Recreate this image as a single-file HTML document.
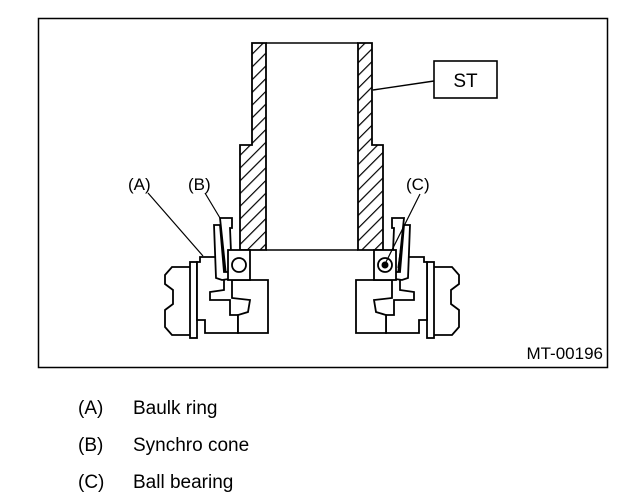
<!DOCTYPE html>
<html><head><style>
body{margin:0;background:#fff;width:640px;height:504px;overflow:hidden;font-family:"Liberation Sans",sans-serif}
.cap{position:absolute;font-size:19px;color:#000}
</style></head><body>
<svg width="640" height="504" style="position:absolute;left:0;top:0">
<defs>
<pattern id="h" width="9" height="9" patternUnits="userSpaceOnUse" patternTransform="rotate(45)">
<rect width="9" height="9" fill="#fff"/><line x1="0" y1="0" x2="0" y2="9" stroke="#000" stroke-width="2.4"/>
</pattern>
<g id="asm" fill="#fff" stroke="#000" stroke-width="1.8">
<polygon points="165,275 172,267 192,267 192,335 172,335 165,327 165,310 173,304 173,290 165,284"/>
<rect x="190" y="262" width="7" height="76"/>
<polygon points="197,262 200,262 200,257 218,257 224,262 224,290 210,292 210,300 230,300 230,315 238,315 238,333 205,333 205,320 197,320"/>
<polygon points="232,280 268,280 268,333 238,333 238,315 248,312 250,300 232,298"/>
<polygon points="220,218 232,218 232,228 230,228 232,275 226,275"/>
<polygon points="214,225 220,225 224,272 236,272 236,278 222,280 216,278"/>
<rect x="228" y="250" width="22" height="30"/>
<circle cx="239" cy="265" r="7"/>
</g>
</defs>
<rect x="38.5" y="18.5" width="569" height="349" fill="#fff" stroke="#000" stroke-width="1.5"/>
<polygon points="252,43 266,43 266,250 240,250 240,145 252,145" fill="url(#h)" stroke="#000" stroke-width="1.8"/>
<polygon points="358,43 372,43 372,145 383,145 383,250 358,250" fill="url(#h)" stroke="#000" stroke-width="1.8"/>
<line x1="266" y1="43" x2="358" y2="43" stroke="#000" stroke-width="1.6"/>
<line x1="266" y1="250" x2="358" y2="250" stroke="#000" stroke-width="1.6"/>
<use href="#asm"/>
<use href="#asm" transform="translate(624,0) scale(-1,1)"/>
<circle cx="385" cy="265" r="3.5" fill="#000"/>
<rect x="434" y="61" width="63" height="37" fill="#fff" stroke="#000" stroke-width="1.6"/>
<text x="465.5" y="87" font-size="19" text-anchor="middle" font-family="Liberation Sans">ST</text>
<line x1="373" y1="90" x2="434" y2="81" stroke="#000" stroke-width="1.4"/>
<text x="128" y="190" font-size="17" font-family="Liberation Sans">(A)</text>
<text x="188" y="190" font-size="17" font-family="Liberation Sans">(B)</text>
<text x="406" y="190" font-size="17" font-family="Liberation Sans">(C)</text>
<line x1="148" y1="193" x2="203" y2="256" stroke="#000" stroke-width="1.2"/>
<line x1="205" y1="193" x2="220" y2="218" stroke="#000" stroke-width="1.2"/>
<line x1="420" y1="194" x2="386" y2="262" stroke="#000" stroke-width="1.2"/>
<line x1="404" y1="225" x2="398" y2="268" stroke="#000" stroke-width="1.2"/>
<text x="603" y="359" font-size="17" text-anchor="end" font-family="Liberation Sans">MT-00196</text>
</svg>
<div class="cap" style="left:78px;top:398px">(A)</div><div class="cap" style="left:133px;top:398px">Baulk ring</div>
<div class="cap" style="left:78px;top:435px">(B)</div><div class="cap" style="left:133px;top:435px">Synchro cone</div>
<div class="cap" style="left:78px;top:472px">(C)</div><div class="cap" style="left:133px;top:472px">Ball bearing</div>
</body></html>
